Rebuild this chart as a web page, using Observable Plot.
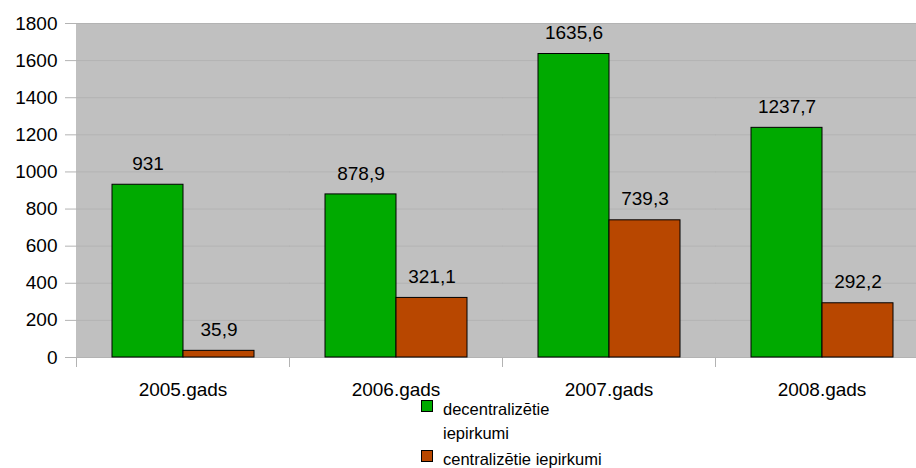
<!DOCTYPE html>
<html><head><meta charset="utf-8">
<script src="https://cdn.jsdelivr.net/npm/d3@7"></script>
<script src="https://cdn.jsdelivr.net/npm/@observablehq/plot@0.6"></script>
<style>
body{margin:0;background:#fff;font-family:"Liberation Sans",Arial,sans-serif;}
#wrap{position:relative;width:916px;height:468px;overflow:hidden;}
#chart{position:absolute;left:0;top:0;width:928px;}
#chart svg{max-width:none !important;}
#legend{position:absolute;left:421px;top:397px;font-size:16.5px;color:#000;}
.item{position:relative;padding-left:22px;line-height:24px;width:160px;}
.sw{position:absolute;left:0;top:3px;width:12px;height:12px;border:1px solid #000;box-sizing:border-box;}
</style></head><body>
<div id="wrap"><div id="chart"></div><div id="legend"></div></div>
<script>
const years = ["2005.gads", "2006.gads", "2007.gads", "2008.gads"];
const seriesNames = ["decentralizētie iepirkumi", "centralizētie iepirkumi"];
const decentralized = [931, 878.9, 1635.6, 1237.7];
const centralized = [35.9, 321.1, 739.3, 292.2];
const colors = ["#00aa00", "#b84700"];
const yTicks = [0, 200, 400, 600, 800, 1000, 1200, 1400, 1600, 1800];

const data = years.flatMap((y, i) => [
  {year: y, series: seriesNames[0], value: decentralized[i]},
  {year: y, series: seriesNames[1], value: centralized[i]}
]);
const fmt = v => String(v).replace(".", ",");

// small category-boundary tick below the x axis, at the left edge of each facet
const boundaryTick = (index, scales, values, dims) => {
  const ns = "http://www.w3.org/2000/svg";
  const line = document.createElementNS(ns, "line");
  const x0 = dims.marginLeft + 0.5;
  const y0 = scales.y(0);
  line.setAttribute("x1", x0); line.setAttribute("x2", x0);
  line.setAttribute("y1", y0); line.setAttribute("y2", y0 + 10);
  line.setAttribute("stroke", "#b3b3b3");
  return line;
};

const chart = Plot.plot({
  width: 928, height: 405,
  marginLeft: 76, marginRight: 0, marginTop: 23, marginBottom: 48,
  style: {fontFamily: '"Liberation Sans", Arial, sans-serif', fontSize: "19px", color: "#000", background: "transparent"},
  fx: {domain: years, padding: 0, label: null},
  x: {domain: seriesNames, paddingInner: 0, paddingOuter: 0.5, axis: null},
  y: {domain: [0, 1800], label: null},
  color: {domain: seriesNames, range: colors},
  marks: [
    Plot.frame({fill: "#c0c0c0", stroke: null, insetRight: -1, insetLeft: -0.5}),
    Plot.gridY(yTicks, {stroke: "#b3b3b3", strokeOpacity: 1, insetRight: -1}),
    boundaryTick,
    Plot.axisY(yTicks, {tickSize: 11, tickPadding: 8, stroke: "#b3b3b3", fill: "#000", label: null, fontSize: 19, tickFormat: d => String(d)}),
    Plot.barY(data, {fx: "year", x: "series", y: "value", fill: "series", stroke: "#000", strokeWidth: 1}),
    Plot.text(data, {fx: "year", x: "series", y: "value", text: d => fmt(d.value), dy: -21, lineAnchor: "middle", fontSize: 19, fill: "#000"}),
    Plot.axisFx({anchor: "bottom", tickSize: 0, tickPadding: 25, label: null, fontSize: 19, fill: "#000"})
  ]
});
document.getElementById("chart").appendChild(chart);

const legend = document.getElementById("legend");
seriesNames.forEach((name, i) => {
  const it = document.createElement("div");
  it.className = "item";
  const sw = document.createElement("span");
  sw.className = "sw";
  sw.style.background = colors[i];
  it.appendChild(sw);
  it.appendChild(document.createTextNode(name));
  if (i === 1) { it.style.width = "240px"; it.style.marginTop = "2px"; }
  legend.appendChild(it);
});
</script>
</body></html>
